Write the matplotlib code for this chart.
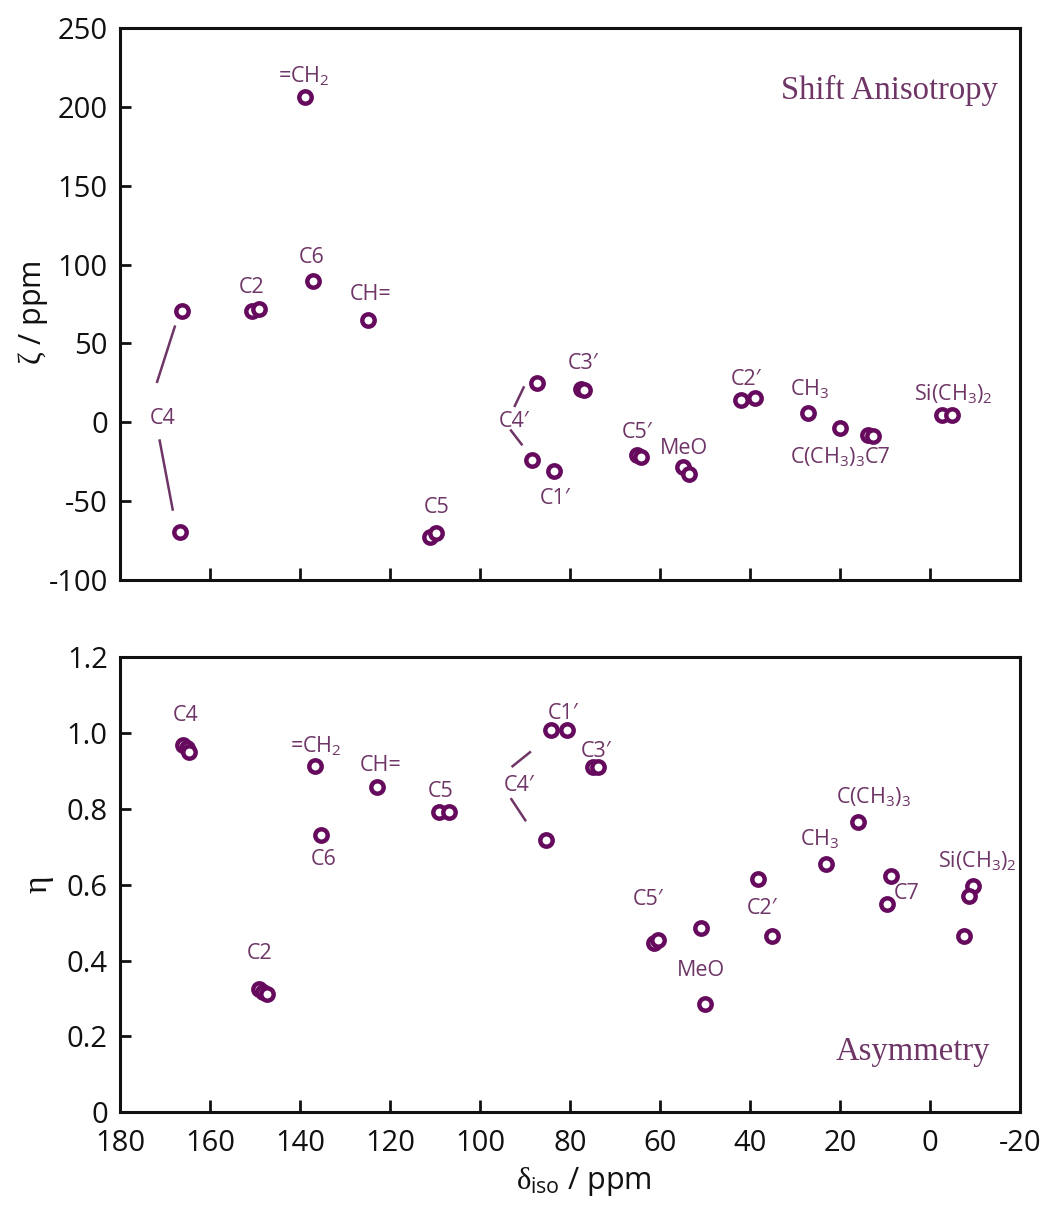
import matplotlib
matplotlib.use("Agg")
import matplotlib.pyplot as plt

plt.rcParams['font.family'] = ['Open Sans', 'DejaVu Sans']
plt.rcParams['axes.unicode_minus'] = False
plt.rcParams['mathtext.fontset'] = 'custom'
plt.rcParams['mathtext.rm'] = 'Open Sans'
plt.rcParams['mathtext.it'] = 'Liberation Serif'

MARK = '#660a5e'
LAB = '#6e3566'
SERIF = 'Liberation Serif'

# ---- top panel: shift anisotropy zeta vs delta_iso
zeta_x = [166.3, 166.7, 150.7, 149.2, 139.0, 137.2, 125.0, 111.1, 109.9, 87.4, 88.5, 83.6,
          77.6, 76.8, 65.1, 64.2, 54.8, 53.6, 41.9, 38.9, 27.2, 20.0, 13.7, 12.6, -2.8, -4.9]
zeta_y = [70.4, -69.8, 70.4, 72.0, 206.5, 89.9, 64.6, -73.0, -70.4, 24.9, -23.6, -30.8,
          21.3, 20.7, -20.5, -22.0, -28.3, -32.5, 13.9, 15.4, 6.1, -3.4, -8.2, -8.9, 4.9, 4.9]

zeta_labels = ['C4', 'C2', '=CH$_2$', 'C6', 'CH=', 'C5', 'C4′', 'C1′', 'C3′', 'C5′', 'MeO',
               'C2′', 'CH$_3$', 'C(CH$_3$)$_3$', 'C7', 'Si(CH$_3$)$_2$']
zeta_lab_x = [170.5, 150.8, 139.3, 137.5, 124.4, 109.7, 92.4, 83.3, 77.2, 65.0, 54.7,
              40.9, 26.8, 22.7, 11.6, -5.1]
zeta_lab_y = [-1.3, 81.8, 216.0, 100.8, 77.7, -57.8, -3.0, -51.9, 34.0, -9.7, -20.4,
              23.4, 17.1, -26.1, -26.1, 14.0]

# connector strokes (x0, x1), (y0, y1)
zeta_links_x = [(171.9, 167.8), (171.3, 168.3), (92.4, 90.2), (93.3, 90.6)]
zeta_links_y = [(24.9, 61.4), (-10.8, -56.1), (9.7, 22.8), (-4.6, -14.6)]

# ---- bottom panel: asymmetry eta vs delta_iso
eta_x = [166.0, 165.2, 164.7, 149.2, 148.3, 147.4, 136.8, 135.3, 122.9, 109.1, 106.9, 85.4,
         84.2, 80.7, 75.0, 73.8, 61.4, 60.5, 50.8, 50.1, 38.2, 35.2, 23.0, 16.0, 8.6, 9.6,
         -9.7, -8.6, -7.5]
eta_y = [0.969, 0.960, 0.950, 0.325, 0.318, 0.312, 0.912, 0.730, 0.858, 0.792, 0.792, 0.718,
         1.007, 1.007, 0.910, 0.910, 0.446, 0.455, 0.485, 0.286, 0.615, 0.465, 0.655, 0.764,
         0.623, 0.550, 0.597, 0.571, 0.465]

eta_labels = ['C4', 'C2', '=CH$_2$', 'C6', 'CH=', 'C5', 'C4′', 'C1′', 'C3′', 'C5′', 'MeO',
              'C2′', 'CH$_3$', 'C(CH$_3$)$_3$', 'C7', 'Si(CH$_3$)$_2$']
eta_lab_x = [165.5, 149.1, 136.6, 134.7, 122.2, 108.8, 91.4, 81.6, 74.2, 62.7, 50.9,
             37.4, 24.4, 12.6, 5.1, -10.6]
eta_lab_y = [1.031, 0.404, 0.949, 0.651, 0.899, 0.831, 0.846, 1.037, 0.937, 0.547, 0.360,
             0.523, 0.705, 0.815, 0.562, 0.646]

eta_links_x = [(93.0, 88.7), (93.2, 89.8)]
eta_links_y = [(0.910, 0.951), (0.828, 0.767)]

x_ticks = [180, 160, 140, 120, 100, 80, 60, 40, 20, 0, -20]
zeta_ticks = [250, 200, 150, 100, 50, 0, -50, -100]
eta_ticks = [1.2, 1.0, 0.8, 0.6, 0.4, 0.2, 0]
eta_ticklabels = ['1.2', '1.0', '0.8', '0.6', '0.4', '0.2', '0']

fig = plt.figure(figsize=(10.47, 12.08), dpi=100)
W, H = 1047, 1208
ax1 = fig.add_axes([120.3 / W, 1 - 580 / H, 899.5 / W, 552 / H])
ax2 = fig.add_axes([120.3 / W, 1 - 1112.3 / H, 899.5 / W, 455.3 / H])


def style(ax):
    for s in ax.spines.values():
        s.set_linewidth(2.2)
        s.set_color('#111111')
    ax.tick_params(direction='in', length=8, width=2.0, labelsize=21,
                   color='#111111', labelcolor='#111111', pad=9)
    ax.tick_params(axis='x', length=9, pad=12)


def draw(ax, xs, ys, labels, lx, ly, links_x, links_y):
    ax.plot(xs, ys, linestyle='none', marker='o', markersize=8.9,
            markerfacecolor='white', markeredgecolor=MARK, markeredgewidth=3.2, zorder=3)
    for t, x, y in zip(labels, lx, ly):
        ax.text(x, y, t, color=LAB, fontsize=15.5, ha='center', va='baseline',
                family=['Open Sans', 'DejaVu Sans'])
    for lxs, lys in zip(links_x, links_y):
        ax.plot(lxs, lys, color=LAB, linewidth=1.8, solid_capstyle='butt')


draw(ax1, zeta_x, zeta_y, zeta_labels, zeta_lab_x, zeta_lab_y, zeta_links_x, zeta_links_y)
draw(ax2, eta_x, eta_y, eta_labels, eta_lab_x, eta_lab_y, eta_links_x, eta_links_y)

for ax in (ax1, ax2):
    style(ax)
    ax.set_xlim(180, -20)
    ax.set_xticks(x_ticks)

ax1.set_ylim(-100, 250)
ax1.set_yticks(zeta_ticks)
ax1.tick_params(axis='x', which='both', labelbottom=False)

ax2.set_ylim(0, 1.2)
ax2.set_yticks(eta_ticks)
ax2.set_yticklabels(eta_ticklabels)
ax2.set_xticklabels([str(v) for v in x_ticks])

ax1.text(-15.1, 204.7, 'Shift Anisotropy', family=SERIF, fontsize=23.5,
         color=LAB, ha='right', va='baseline')
ax2.text(-13.4, 0.137, 'Asymmetry', family=SERIF, fontsize=23.5,
         color=LAB, ha='right', va='baseline')

fig.text(33 / W, 1 - 313 / H, r'$\zeta$ / ppm', rotation=90, fontsize=22,
         ha='center', va='center', color='#111111')
fig.text(40 / W, 1 - 885 / H, r'$\eta$', rotation=90, fontsize=24,
         ha='center', va='center', color='#111111')
fig.text(584 / W, 1 - 1181 / H, r'$\delta_{\mathrm{iso}}$ / ppm', fontsize=22,
         ha='center', va='center', color='#111111')

fig.savefig('out.png', dpi=100, facecolor='white')
